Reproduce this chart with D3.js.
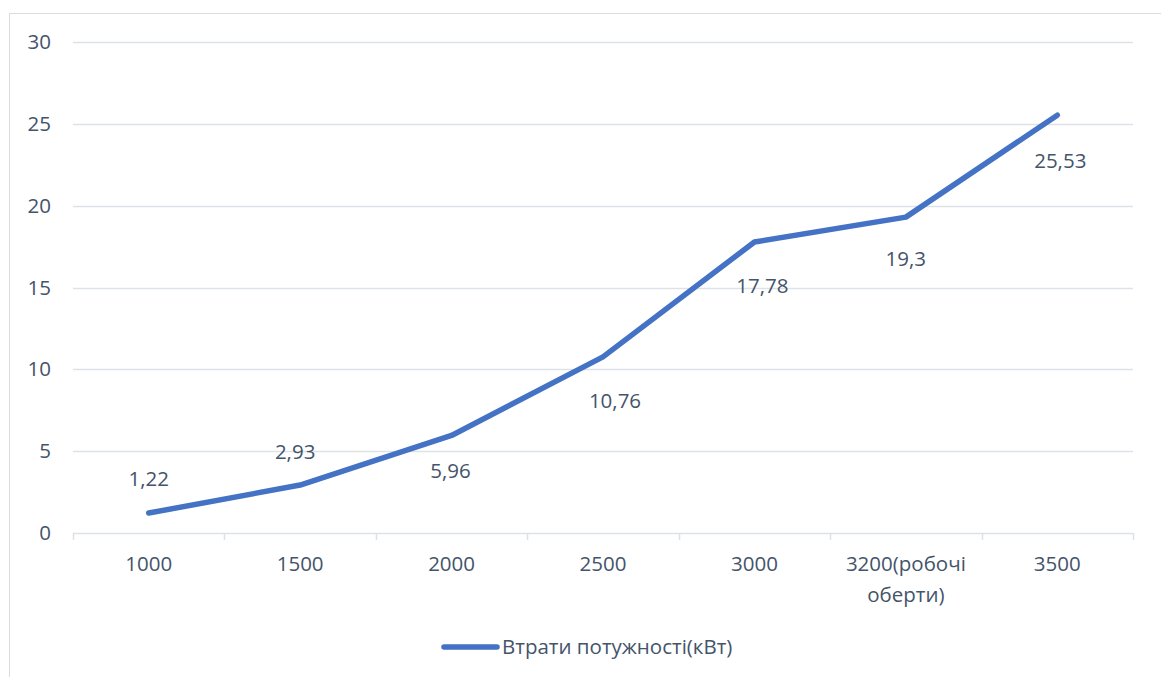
<!DOCTYPE html>
<html>
<head>
<meta charset="utf-8">
<script src="https://cdn.jsdelivr.net/npm/d3@7/dist/d3.min.js"></script>
<style>
  html, body { margin: 0; padding: 0; background: #ffffff; }
  svg { display: block; }
  text { font-family: "Open Sans", "Noto Sans", sans-serif; fill: #44546A; }
</style>
</head>
<body>
<svg id="chart" width="1161" height="677"></svg>
<script>
// Engine speed categories (rpm) and power losses (kW)
const categories = ["1000", "1500", "2000", "2500", "3000", "3200(робочі оберти)", "3500"];
const categoryLines = [["1000"], ["1500"], ["2000"], ["2500"], ["3000"], ["3200(робочі", "оберти)"], ["3500"]];
const losses = [1.22, 2.93, 5.96, 10.76, 17.78, 19.3, 25.53];
const valueLabels = ["1,22", "2,93", "5,96", "10,76", "17,78", "19,3", "25,53"];
const yTicks = [0, 5, 10, 15, 20, 25, 30];
const seriesName = "Втрати потужності(кВт)";

// label placement relative to each point
const labelShift = [
  [0, -34], [-5, -33], [-1, 35], [12, 44], [8, 44], [0, 42], [3, 46]
];

const FONT = "20.5px";
const svg = d3.select("#chart");
const plot = { left: 73, right: 1133, top: 42, bottom: 533 };

// outer chart frame
svg.append("rect")
  .attr("x", 9.5).attr("y", 13.5)
  .attr("width", 1161).attr("height", 700)
  .attr("fill", "none").attr("stroke", "#d9dde3").attr("stroke-width", 1);

const x = d3.scaleBand().domain(categories).range([plot.left, plot.right]).padding(0);
const y = d3.scaleLinear().domain([0, 30]).range([plot.bottom, plot.top]);

// horizontal gridlines
svg.append("g")
  .selectAll("line")
  .data(yTicks.filter(d => d > 0))
  .join("line")
  .attr("x1", plot.left).attr("x2", plot.right)
  .attr("y1", d => Math.round(y(d)) + 0.5).attr("y2", d => Math.round(y(d)) + 0.5)
  .attr("stroke", "#dde2e9").attr("stroke-width", 1.5);

// y axis labels
const yAxis = d3.axisLeft(y).tickValues(yTicks).tickSize(0).tickPadding(0).tickFormat(d3.format("d"));
const gy = svg.append("g").attr("transform", `translate(51,0)`).call(yAxis);
gy.select(".domain").remove();
gy.selectAll("text")
  .attr("font-size", FONT)
  .attr("fill", "#44546A")
  .style("font-family", "'Open Sans', 'Noto Sans', sans-serif");

// x axis baseline with category boundary ticks
const gx = svg.append("g");
gx.append("line")
  .attr("x1", plot.left).attr("x2", plot.right)
  .attr("y1", plot.bottom + 0.5).attr("y2", plot.bottom + 0.5)
  .attr("stroke", "#dde2e9").attr("stroke-width", 1.5);
const bounds = categories.map(c => x(c)).concat([x(categories[categories.length - 1]) + x.bandwidth()]);
gx.selectAll("line.tick")
  .data(bounds)
  .join("line")
  .attr("class", "tick")
  .attr("x1", d => Math.round(d) + 0.5).attr("x2", d => Math.round(d) + 0.5)
  .attr("y1", plot.bottom).attr("y2", plot.bottom + 7)
  .attr("stroke", "#dde2e9").attr("stroke-width", 1.5);

// category labels (wrapped)
const cl = gx.selectAll("text.cat")
  .data(categories)
  .join("text")
  .attr("class", "cat")
  .attr("x", d => x(d) + x.bandwidth() / 2)
  .attr("y", 571)
  .attr("text-anchor", "middle")
  .attr("font-size", FONT);
cl.each(function(d, i) {
  const t = d3.select(this);
  categoryLines[i].forEach((line, j) => {
    t.append("tspan")
      .attr("x", x(d) + x.bandwidth() / 2)
      .attr("dy", j === 0 ? 0 : 31)
      .text(line);
  });
});

// data line
const line = d3.line()
  .x((d, i) => x(categories[i]) + x.bandwidth() / 2)
  .y(d => y(d));
svg.append("path")
  .datum(losses)
  .attr("d", line)
  .attr("fill", "none")
  .attr("stroke", "#4472C4")
  .attr("stroke-width", 5.5)
  .attr("stroke-linecap", "round")
  .attr("stroke-linejoin", "round");

// value labels
svg.append("g")
  .selectAll("text")
  .data(losses)
  .join("text")
  .attr("x", (d, i) => x(categories[i]) + x.bandwidth() / 2 + labelShift[i][0])
  .attr("y", (d, i) => y(d) + labelShift[i][1])
  .attr("dy", "0.35em")
  .attr("text-anchor", "middle")
  .attr("font-size", FONT)
  .text((d, i) => valueLabels[i]);

// legend
const lg = svg.append("g");
lg.append("line")
  .attr("x1", 444).attr("x2", 497)
  .attr("y1", 647).attr("y2", 647)
  .attr("stroke", "#4472C4").attr("stroke-width", 5.5)
  .attr("stroke-linecap", "round");
lg.append("text")
  .attr("x", 502).attr("y", 647)
  .attr("dy", "0.35em")
  .attr("font-size", FONT)
  .text(seriesName);
</script>
</body>
</html>
